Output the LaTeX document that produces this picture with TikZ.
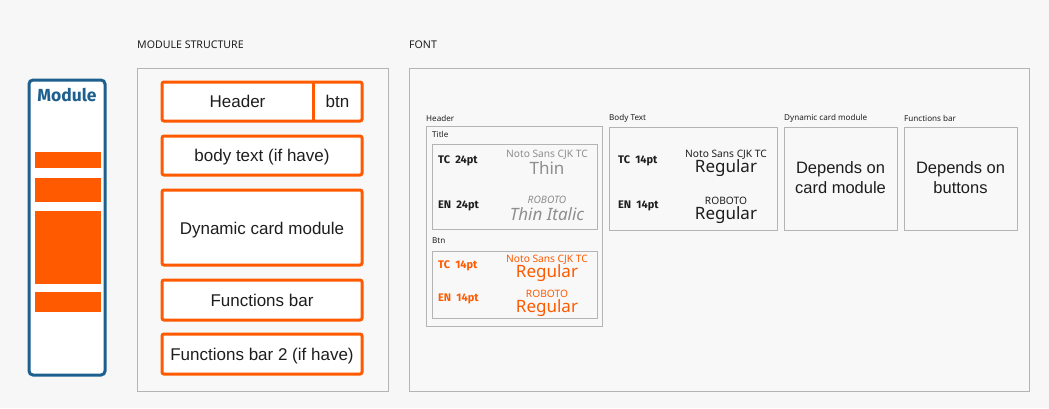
\documentclass[tikz,border=0pt]{standalone}
\usepackage{fontspec}
\setmainfont{Liberation Sans}
\newfontfamily\notofont{Noto Sans}
\newfontfamily\firafont{Fira Sans}
\usetikzlibrary{fit}
\definecolor{bgc}{HTML}{F7F7F7}
\definecolor{panelc}{HTML}{F8F8F8}
\definecolor{borderc}{HTML}{B4B4B4}
\definecolor{orangec}{HTML}{FF5A00}
\definecolor{bluec}{HTML}{1D5F8E}
\definecolor{thinc}{HTML}{8E8E8E}
\definecolor{textc}{HTML}{1E1E1E}
\tikzset{
  panel/.style={draw=borderc, line width=1pt, fill=panelc, inner sep=0pt},
  subpanel/.style={draw=borderc, line width=1pt, fill=panelc, inner sep=0pt},
  obox/.style={draw=orangec, line width=3pt, fill=white, rounded corners=2pt, inner sep=0pt},
  ofill/.style={fill=orangec, draw=none, inner sep=0pt},
  ttl/.style={anchor=west, font=\notofont\fontsize{10.6}{12}\selectfont, text=textc, inner sep=0pt},
  small/.style={anchor=west, font=\notofont\fontsize{8.1}{9}\selectfont, text=textc, inner sep=0pt},
  big/.style={font=\fontsize{17}{20}\selectfont, text=textc, inner sep=0pt},
  bigb/.style={big, anchor=base},
  dep/.style={align=center, font=\fontsize{16.5}{19.5}\selectfont, text=textc, inner sep=0pt},
  sizelbl/.style={anchor=west, font=\firafont\bfseries\fontsize{11}{12}\selectfont, text=textc, inner sep=0pt},
  fname/.style={font=\notofont\fontsize{10.2}{12}\selectfont, inner sep=0pt},
  fweight/.style={font=\notofont\fontsize{17}{19}\selectfont, inner sep=0pt},
}
\begin{document}
\begin{tikzpicture}[x=1pt, y=-1pt]
\useasboundingbox (0,0) rectangle (1049,408);
\fill[bgc] (0,0) rectangle (1049,408);

% Module overview
\node[draw=bluec, line width=3pt, fill=white, rounded corners=4pt, inner sep=0pt, fit={(29,80) (105,375)}] (mod) {};
\node[font=\firafont\bfseries\fontsize{17.5}{19}\selectfont, text=bluec, inner sep=0pt] (modt) at (67,95) {Module};
\node[ofill, fit={(35,152) (101,168)}] (m1) {};
\node[ofill, fit={(35,178) (101,202)}] (m2) {};
\node[ofill, fit={(35,211) (101,284)}] (m3) {};
\node[ofill, fit={(35,292) (101,312)}] (m4) {};

% Module structure
\node[ttl] (mslbl) at (137,45) {MODULE STRUCTURE};
\node[panel, fit={(137,68) (388,391)}] (ms) {};
\node[obox, fit={(162,82) (362,121)}] (hdr) {};
\coordinate (divt) at (313,82);
\coordinate (divb) at (313,121);
\draw[orangec, line width=3pt] (divt) -- (divb);
\node[bigb] (hdrt) at (237.5,107.5) {Header};
\node[bigb] (btnt) at (337.5,107.5) {btn};
\node[obox, fit={(162,136) (362,175)}] (body) {};
\node[bigb] (bodyt) at (262,161.5) {body text (if have)};
\node[obox, fit={(162,190) (362,265)}] (dyn) {};
\node[bigb] (dynt) at (262,234) {Dynamic card module};
\node[obox, fit={(162,280) (362,320)}] (fb) {};
\node[bigb] (fbt) at (262,306.5) {Functions bar};
\node[obox, fit={(162,334) (362,374)}] (fb2) {};
\node[bigb] (fb2t) at (262,360) {Functions bar 2 (if have)};

% Font panel
\node[ttl] (fontlbl) at (409,45) {FONT};
\node[panel, fit={(409,68) (1029,391)}] (fp) {};

% Header group
\node[small] (hlbl) at (426,118) {Header};
\node[subpanel, fit={(426,126) (602,326)}] (hbox) {};
\node[small] (tlbl) at (432,134) {Title};
\node[subpanel, fit={(432,144) (597,229)}] (tbox) {};
\node[sizelbl] (tc24) at (438,161) {TC\ \ 24pt};
\node[fname, text=thinc] (tcn) at (547,155) {Noto Sans CJK TC};
\node[fweight, text=thinc] (tcw) at (547,168.5) {Thin};
\node[sizelbl] (en24) at (438,206) {EN\ \ 24pt};
\node[fname, text=thinc, font=\notofont\itshape\fontsize{10.2}{12}\selectfont] (enn) at (547,200) {ROBOTO};
\node[fweight, text=thinc, font=\notofont\itshape\fontsize{17}{19}\selectfont] (enw) at (547,214.5) {Thin Italic};

\node[small] (blbl) at (432,241) {Btn};
\node[subpanel, fit={(432,251) (597,318)}] (bbox) {};
\node[sizelbl, text=orangec] (btc) at (438,266) {TC\ \ 14pt};
\node[fname, text=orangec] (btcn) at (547,260) {Noto Sans CJK TC};
\node[fweight, text=orangec] (btcw) at (547,273.5) {Regular};
\node[sizelbl, text=orangec] (ben) at (438,299) {EN\ \ 14pt};
\node[fname, text=orangec] (benn) at (547,294) {ROBOTO};
\node[fweight, text=orangec] (benw) at (547,308.5) {Regular};

% Body text
\node[small] (btlbl) at (609,118) {Body Text};
\node[subpanel, fit={(609,127) (777,230)}] (btbox) {};
\node[sizelbl] (b14) at (618,161) {TC\ \ 14pt};
\node[fname, text=textc] (bn) at (726,155) {Noto Sans CJK TC};
\node[fweight, text=textc] (bw) at (726,168.5) {Regular};
\node[sizelbl] (be14) at (618,206) {EN\ \ 14pt};
\node[fname, text=textc] (ben2) at (726,201) {ROBOTO};
\node[fweight, text=textc] (bew) at (726,215.5) {Regular};

% Dynamic card module
\node[small] (dlbl) at (784,118) {Dynamic card module};
\node[subpanel, fit={(784,127) (897,230)}] (dbox) {};
\node[dep] (dtxt) at (840.5,177.5) {Depends on\\card module};

% Functions bar
\node[small] (flbl) at (904,118) {Functions bar};
\node[subpanel, fit={(904,127) (1017,230)}] (fbox) {};
\node[dep] (ftxt) at (960.5,177.5) {Depends on\\buttons};
\end{tikzpicture}
\end{document}
